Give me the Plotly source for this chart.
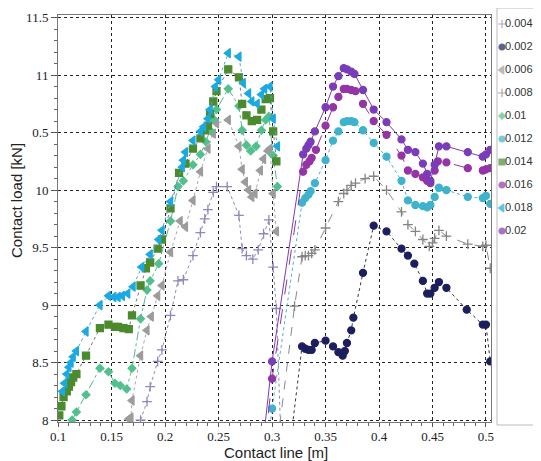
import plotly.graph_objects as go

# ---------------- data ----------------
series_names = ["0.004", "0.002", "0.006", "0.008", "0.01",
                "0.012", "0.014", "0.016", "0.018", "0.02"]

x_0004 = [0.177, 0.183, 0.186, 0.193, 0.197, 0.205, 0.212, 0.217, 0.226, 0.233, 0.237, 0.240,
          0.245, 0.248, 0.258, 0.269, 0.272, 0.276, 0.282, 0.287, 0.292, 0.297, 0.301, 0.304, 0.308]
y_0004 = [8.00, 8.16, 8.29, 8.51, 8.61, 8.91, 9.21, 9.22, 9.43, 9.63, 9.75, 9.83,
          9.98, 10.03, 10.03, 9.78, 9.49, 9.43, 9.40, 9.48, 9.62, 9.74, 9.33, 8.97, 7.90]

x_0002 = [0.317, 0.328, 0.331, 0.334, 0.337, 0.340, 0.350, 0.357, 0.362, 0.366, 0.368, 0.370,
          0.374, 0.376, 0.385, 0.395, 0.407, 0.421, 0.427, 0.433, 0.441, 0.445, 0.448, 0.452,
          0.456, 0.463, 0.482, 0.497, 0.500, 0.504]
y_0002 = [7.80, 8.64, 8.62, 8.61, 8.61, 8.67, 8.69, 8.64, 8.59, 8.56, 8.60, 8.67,
          8.78, 8.89, 9.28, 9.69, 9.64, 9.49, 9.43, 9.36, 9.21, 9.10, 9.10, 9.15,
          9.20, 9.15, 8.96, 8.83, 8.83, 8.51]

x_0006 = [0.166, 0.168, 0.169, 0.177, 0.183, 0.187, 0.193, 0.197, 0.205, 0.214, 0.219, 0.226,
          0.233, 0.240, 0.245, 0.248, 0.259, 0.269, 0.272, 0.275, 0.278, 0.281, 0.284, 0.289,
          0.292, 0.296, 0.298, 0.301, 0.304]
y_0006 = [8.01, 8.02, 8.17, 8.56, 8.78, 8.90, 9.08, 9.17, 9.46, 9.73, 9.68, 9.91,
          10.16, 10.36, 10.49, 10.58, 10.61, 10.38, 10.18, 10.07, 10.00, 9.94, 9.97, 10.17,
          10.27, 10.34, 10.36, 9.97, 9.64]

x_0008 = [0.305, 0.321, 0.328, 0.331, 0.334, 0.337, 0.340, 0.350, 0.362, 0.367, 0.370, 0.374,
          0.378, 0.387, 0.395, 0.407, 0.421, 0.427, 0.434, 0.441, 0.447, 0.450, 0.452, 0.456,
          0.463, 0.483, 0.497, 0.500, 0.504]
y_0008 = [7.80, 8.99, 9.42, 9.43, 9.43, 9.45, 9.48, 9.67, 9.90, 9.97, 10.00, 10.04,
          10.06, 10.10, 10.12, 10.00, 9.81, 9.70, 9.64, 9.57, 9.51, 9.54, 9.58, 9.65,
          9.60, 9.53, 9.51, 9.52, 9.32]

x_001 = [0.113, 0.117, 0.126, 0.139, 0.147, 0.153, 0.158, 0.164, 0.169, 0.177, 0.183, 0.186,
         0.194, 0.205, 0.212, 0.217, 0.226, 0.233, 0.238, 0.242, 0.245, 0.248, 0.259, 0.269,
         0.272, 0.276, 0.280, 0.285, 0.290, 0.294, 0.297, 0.301, 0.305]
y_001 = [8.00, 8.07, 8.22, 8.45, 8.42, 8.32, 8.30, 8.27, 8.45, 8.88, 9.13, 9.21,
         9.36, 9.73, 10.03, 10.08, 10.22, 10.31, 10.42, 10.52, 10.62, 10.70, 10.88, 10.73,
         10.52, 10.39, 10.34, 10.38, 10.52, 10.61, 10.64, 10.30, 10.03]

x_0012 = [0.296, 0.300, 0.328, 0.331, 0.334, 0.336, 0.340, 0.350, 0.357, 0.362, 0.367, 0.370,
          0.374, 0.377, 0.385, 0.395, 0.407, 0.421, 0.427, 0.434, 0.441, 0.445, 0.448, 0.452,
          0.456, 0.463, 0.483, 0.497, 0.500, 0.504]
y_0012 = [7.80, 8.10, 9.89, 9.93, 9.96, 9.99, 10.06, 10.26, 10.43, 10.51, 10.59, 10.60,
          10.60, 10.59, 10.52, 10.41, 10.29, 10.08, 9.91, 9.87, 9.86, 9.85, 9.87, 9.94,
          10.02, 10.00, 9.94, 9.93, 9.95, 9.88]

x_0014 = [0.101, 0.103, 0.105, 0.108, 0.110, 0.112, 0.114, 0.117, 0.126, 0.139, 0.147, 0.153,
          0.156, 0.161, 0.166, 0.169, 0.177, 0.182, 0.186, 0.193, 0.197, 0.205, 0.213, 0.219,
          0.226, 0.233, 0.237, 0.240, 0.242, 0.245, 0.248, 0.259, 0.269, 0.272, 0.276, 0.281,
          0.286, 0.290, 0.294, 0.298, 0.301, 0.304]
y_0014 = [8.04, 8.12, 8.20, 8.25, 8.29, 8.33, 8.37, 8.40, 8.56, 8.80, 8.83, 8.81,
          8.81, 8.80, 8.79, 8.91, 9.17, 9.32, 9.37, 9.49, 9.57, 9.84, 10.15, 10.23,
          10.36, 10.45, 10.52, 10.56, 10.66, 10.77, 10.86, 11.05, 10.98, 10.75, 10.65, 10.60,
          10.61, 10.70, 10.79, 10.80, 10.51, 10.25]

x_0016 = [0.2935, 0.300, 0.329, 0.332, 0.335, 0.337, 0.341, 0.350, 0.357, 0.362, 0.367, 0.370,
          0.374, 0.378, 0.385, 0.395, 0.407, 0.421, 0.427, 0.434, 0.441, 0.445, 0.448, 0.452,
          0.455, 0.463, 0.483, 0.497, 0.500, 0.504]
y_0016 = [7.80, 8.36, 10.16, 10.22, 10.25, 10.28, 10.35, 10.56, 10.72, 10.81, 10.88, 10.88,
          10.87, 10.86, 10.75, 10.60, 10.48, 10.30, 10.17, 10.14, 10.11, 10.08, 10.06, 10.17,
          10.25, 10.24, 10.19, 10.17, 10.18, 10.19]

x_0018 = [0.104, 0.106, 0.108, 0.110, 0.112, 0.114, 0.117, 0.126, 0.139, 0.147, 0.152, 0.156,
          0.160, 0.165, 0.170, 0.178, 0.186, 0.194, 0.197, 0.205, 0.216, 0.217, 0.219, 0.226,
          0.233, 0.236, 0.240, 0.242, 0.247, 0.250, 0.259, 0.269, 0.273, 0.278, 0.281, 0.286,
          0.290, 0.293, 0.298, 0.301, 0.305]
y_0018 = [8.25, 8.32, 8.40, 8.46, 8.50, 8.55, 8.60, 8.77, 9.00, 9.08, 9.07, 9.07,
          9.08, 9.10, 9.16, 9.33, 9.44, 9.57, 9.65, 9.90, 10.20, 10.26, 10.33, 10.43,
          10.51, 10.55, 10.62, 10.70, 10.90, 10.96, 11.19, 11.16, 10.93, 10.84, 10.77, 10.75,
          10.83, 10.88, 10.90, 10.62, 10.38]

x_002 = [0.2915, 0.300, 0.329, 0.332, 0.334, 0.336, 0.340, 0.350, 0.357, 0.362, 0.367, 0.370,
         0.374, 0.377, 0.385, 0.395, 0.407, 0.421, 0.427, 0.434, 0.441, 0.445, 0.448, 0.452,
         0.456, 0.463, 0.483, 0.497, 0.500, 0.504]
y_002 = [7.80, 8.51, 10.31, 10.36, 10.39, 10.42, 10.51, 10.72, 10.90, 10.99, 11.06, 11.05,
         11.03, 11.01, 10.87, 10.70, 10.59, 10.44, 10.35, 10.33, 10.23, 10.14, 10.08, 10.22,
         10.38, 10.38, 10.33, 10.29, 10.31, 10.35]

x_ticks = [0.1, 0.15, 0.2, 0.25, 0.3, 0.35, 0.4, 0.45, 0.5]
x_tick_labels = ["0.1", "0.15", "0.2", "0.25", "0.3", "0.35", "0.4", "0.45", "0.5"]
y_ticks = [8, 8.5, 9, 9.5, 10, 10.5, 11, 11.5]
y_tick_labels = ["8", "8.5", "9", "9.5", "10", "0.5", "11", "11.5"]

series_x = [x_0004, x_0002, x_0006, x_0008, x_001, x_0012, x_0014, x_0016, x_0018, x_002]
series_y = [y_0004, y_0002, y_0006, y_0008, y_001, y_0012, y_0014, y_0016, y_0018, y_002]

# ---------------- styles ----------------
colors = ["#9088bb", "#1c1f5e", "#9c9c9c", "#858585", "#52c08e",
          "#3fb2cc", "#4c8a2e", "#9434a6", "#1ba9e2", "#7a3cb8"]
symbols = ["cross-thin", "circle", "triangle-left", "cross-thin", "diamond",
           "circle", "square", "circle", "triangle-left", "circle"]
sizes = [7, 7, 8, 7, 6, 7, 7, 7, 8, 7]
dashes = ["dot", "dot", "dot", "dash", "dashdot",
          "dot", "dot", "longdash", "dot", "solid"]
line_colors = ["#8f88b0", "#333344", "#a8a8a8", "#8a8a8a", "#58b890",
               "#4ab2c8", "#777777", "#9434a6", "#4aaad8", "#7a3cb8"]

fig = go.Figure()

for i, name in enumerate(series_names):
    fig.add_trace(go.Scatter(
        x=series_x[i], y=series_y[i], name=name, mode="lines+markers",
        showlegend=False,
        line=dict(color=line_colors[i], width=1, dash=dashes[i]),
        marker=dict(symbol=symbols[i], size=sizes[i], color=colors[i],
                    line=dict(color=colors[i], width=1.3)),
        xaxis="x", yaxis="y",
    ))

# legend key (markers + labels) on an auxiliary axis
idx = list(range(len(series_names)))
fig.add_trace(go.Scatter(
    x=[5] * len(idx), y=idx, mode="markers", showlegend=False, hoverinfo="skip",
    marker=dict(symbol=symbols, size=[s - 1 for s in sizes], color=colors,
                line=dict(color=colors, width=1.2)),
    xaxis="x2", yaxis="y2", cliponaxis=False,
))
fig.add_trace(go.Scatter(
    x=[8] * len(idx), y=idx, mode="text", text=series_names,
    textposition="middle right", showlegend=False, hoverinfo="skip",
    textfont=dict(family="Liberation Sans, Arial, sans-serif", size=11, color="#333333"),
    xaxis="x2", yaxis="y2", cliponaxis=False,
))

# The page body has an 8px margin, so the figure is drawn 8px in from the top-left.
OFF = 8
W, H = 541 - OFF, 461 - OFF


def px(v):
    return v - OFF


ml, mt = px(58), px(15)
plot_bottom = px(422)
mb = H - plot_bottom
paper_w = W - ml
paper_h = H - mt - mb
main_dom = (px(491) - ml) / paper_w
leg_left = px(497)

tick_font = dict(family="Liberation Serif, Times New Roman, serif", size=13, color="#222222")
title_font = dict(family="Liberation Sans, Arial, sans-serif", size=15, color="#222222")

fig.update_layout(
    width=W, height=H, autosize=False,
    margin=dict(l=ml, r=0, t=mt, b=mb, pad=0),
    paper_bgcolor="white", plot_bgcolor="white",
    showlegend=False,
    xaxis=dict(
        domain=[0, main_dom], range=[0.0998, 0.5047], automargin=False,
        tickmode="array", tickvals=x_ticks, ticktext=x_tick_labels,
        tickfont=tick_font, ticks="outside", ticklen=4, tickcolor="#555555",
        ticklabelstandoff=-2,
        minor=dict(tickmode="linear", tick0=0.1, dtick=0.01, ticks="outside",
                   ticklen=3, tickcolor="#666666", showgrid=False),
        showgrid=True, gridcolor="#222222", griddash="dot", gridwidth=1,
        showline=True, linecolor="#777777", linewidth=1, mirror=True,
        zeroline=False,
    ),
    yaxis=dict(
        range=[7.983, 11.522], automargin=False,
        tickmode="array", tickvals=y_ticks, ticktext=y_tick_labels,
        tickfont=tick_font, ticks="outside", ticklen=6, tickcolor="#555555",
        minor=dict(tickmode="linear", tick0=8, dtick=0.1, ticks="outside",
                   ticklen=3, tickcolor="#666666", showgrid=False),
        showgrid=True, gridcolor="#222222", griddash="dot", gridwidth=1,
        showline=True, linecolor="#777777", linewidth=1, mirror=True,
        zeroline=False,
    ),
    xaxis2=dict(domain=[(leg_left - ml) / paper_w, 1], range=[0, W - leg_left],
                anchor="y2", visible=False, fixedrange=True, automargin=False),
    yaxis2=dict(domain=[0, 1],
                range=[(plot_bottom - px(24)) / 23.0, -(px(24) - mt) / 23.0],
                anchor="x2", visible=False, fixedrange=True, automargin=False),
    shapes=[dict(type="rect", xref="paper", yref="paper",
                 x0=(leg_left - ml) / paper_w, x1=1.02,
                 y0=-(px(425) - plot_bottom) / paper_h, y1=(plot_bottom - px(8)) / paper_h,
                 line=dict(color="#bbbbbb", width=1), fillcolor="rgba(0,0,0,0)")],
    annotations=[
        dict(text="Contact load [kN]", textangle=-90, showarrow=False,
             xref="paper", yref="paper",
             x=(px(16) - ml) / paper_w, y=(plot_bottom - px(201)) / paper_h,
             xanchor="center", yanchor="middle", font=title_font),
        dict(text="Contact line [m]", showarrow=False,
             xref="paper", yref="paper",
             x=(px(276) - ml) / paper_w, y=-(px(453) - plot_bottom) / paper_h,
             xanchor="center", yanchor="middle", font=title_font),
    ],
)

fig.write_html("out.html")
